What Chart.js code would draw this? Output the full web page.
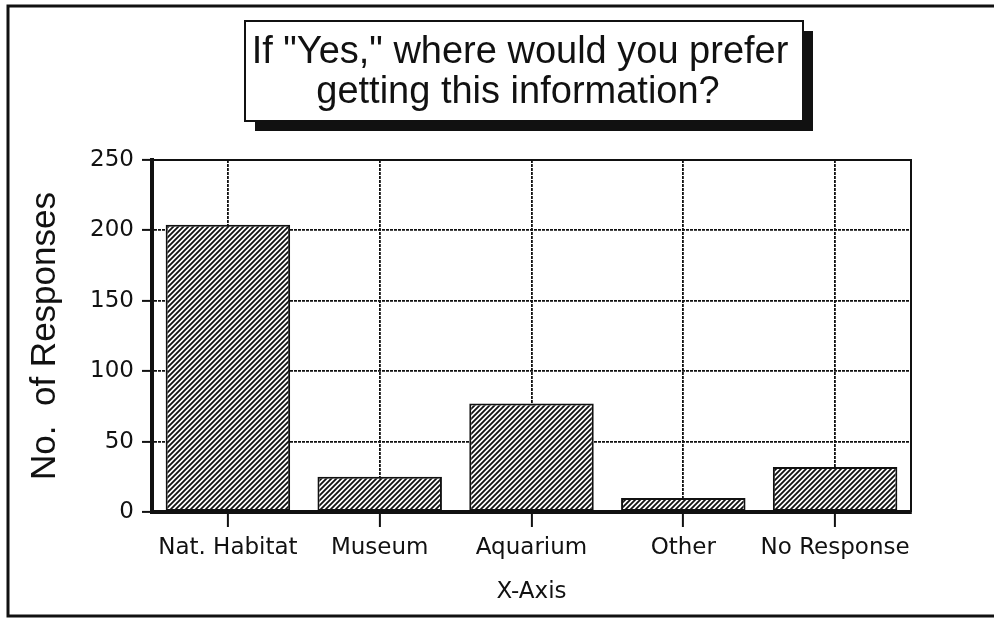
<!DOCTYPE html>
<html>
<head>
<meta charset="utf-8">
<script src="https://cdn.jsdelivr.net/npm/chart.js@4"></script>
<style>
  html, body { margin: 0; padding: 0; background: #fff; }
  canvas { display: block; }
</style>
</head>
<body>
<canvas id="prefChart" width="994" height="620"></canvas>
<script>
const categories = ["Nat. Habitat", "Museum", "Aquarium", "Other", "No Response"];
const responses = [204, 25, 77, 10, 32];
const yTicks = [0, 50, 100, 150, 200, 250];
const titleLines = ['If "Yes," where would you prefer', "getting this information?"];

const INK = "#111";

// diagonal "/" hatch fill for the bars
function hatchPattern() {
  const s = 5;
  const c = document.createElement("canvas");
  c.width = s; c.height = s;
  const g = c.getContext("2d");
  g.fillStyle = "#fff";
  g.fillRect(0, 0, s, s);
  g.strokeStyle = INK;
  g.lineWidth = 1.8;
  g.beginPath();
  g.moveTo(-1, s + 1); g.lineTo(s + 1, -1);
  g.moveTo(-1, 1); g.lineTo(1, -1);
  g.moveTo(s - 1, s + 1); g.lineTo(s + 1, s - 1);
  g.stroke();
  return g.createPattern(c, "repeat");
}

// outer frame, boxed title with drop shadow, solid top/right edges of the plot
const decorations = {
  id: "decorations",
  beforeDraw(chart) {
    const ctx = chart.ctx;
    ctx.save();
    ctx.strokeStyle = INK;
    ctx.lineWidth = 3;
    ctx.strokeRect(8, 6, 1000, 610);

    ctx.fillStyle = INK;
    ctx.fillRect(255, 31, 558, 100);
    ctx.fillStyle = "#fff";
    ctx.fillRect(245, 21, 558, 100);
    ctx.lineWidth = 2;
    ctx.strokeRect(245, 21, 558, 100);

    ctx.fillStyle = INK;
    ctx.font = '38px "Liberation Sans", Arial, sans-serif';
    ctx.textAlign = "center";
    ctx.textBaseline = "alphabetic";
    ctx.fillText(titleLines[0], 520, 63);
    ctx.fillText(titleLines[1], 518, 103);
    ctx.restore();
  },
  afterDraw(chart) {
    const { ctx, chartArea: a } = chart;
    ctx.save();
    ctx.strokeStyle = INK;
    ctx.lineWidth = 2;
    ctx.beginPath();
    ctx.moveTo(a.left, a.top);
    ctx.lineTo(a.right, a.top);
    ctx.lineTo(a.right, a.bottom);
    ctx.stroke();
    ctx.restore();
  }
};

Chart.defaults.font.family = '"DejaVu Sans", Verdana, sans-serif';
Chart.defaults.color = INK;

new Chart(document.getElementById("prefChart"), {
  type: "bar",
  data: {
    labels: categories,
    datasets: [{
      data: responses,
      backgroundColor: hatchPattern(),
      borderColor: INK,
      borderWidth: 2,
      borderSkipped: false,
      barPercentage: 0.82,
      categoryPercentage: 1
    }]
  },
  options: {
    responsive: false,
    animation: false,
    layout: { padding: { left: 8, right: 83, top: 160, bottom: 4 } },
    plugins: {
      legend: { display: false },
      tooltip: { enabled: false }
    },
    scales: {
      x: {
        afterFit(scale) { scale.height = 104; },
        grid: {
          offset: false,
          color: INK,
          lineWidth: 1.8,
          tickLength: 15,
          tickWidth: 2,
          tickColor: INK
        },
        border: { display: true, color: INK, width: 4, dash: [3, 1] },
        ticks: { font: { size: 23 }, padding: 7, maxRotation: 0, autoSkip: false },
        title: {
          display: true,
          text: "X-Axis",
          font: { size: 23 },
          padding: { top: 0, bottom: 10 }
        }
      },
      y: {
        min: 0,
        max: 250,
        afterFit(scale) { scale.width = 144; },
        afterBuildTicks(scale) { scale.ticks = yTicks.map(v => ({ value: v })); },
        grid: {
          color: INK,
          lineWidth: 1.8,
          tickLength: 10,
          tickWidth: 2,
          tickColor: INK
        },
        border: { display: true, color: INK, width: 4, dash: [3, 1] },
        ticks: { font: { size: 23 }, padding: 8 },
        title: {
          display: true,
          text: "No.  of Responses",
          font: { family: '"Liberation Sans", Arial, sans-serif', size: 35 },
          padding: { top: 16, bottom: 0 }
        }
      }
    }
  },
  plugins: [decorations]
});
</script>
</body>
</html>
